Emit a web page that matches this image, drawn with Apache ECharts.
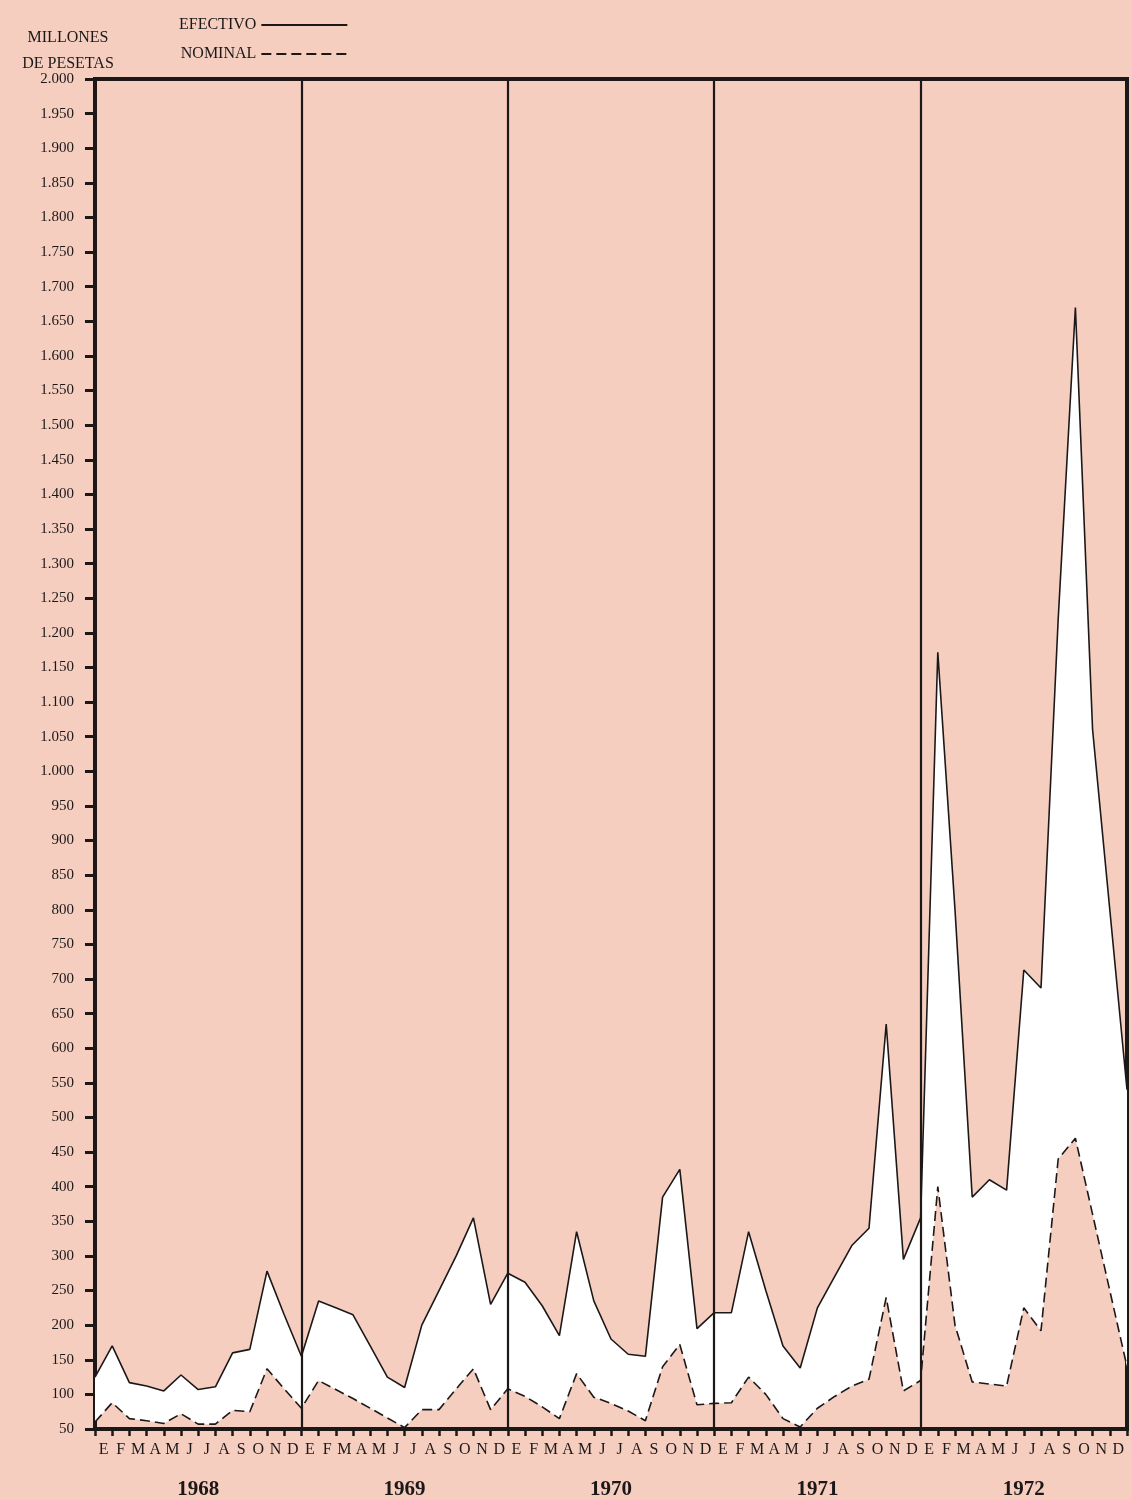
<!DOCTYPE html>
<html><head><meta charset="utf-8">
<script src="https://cdn.jsdelivr.net/npm/echarts@6/dist/echarts.min.js"></script>
<style>html,body{margin:0;padding:0;background:#f5cec0}#c{width:1132px;height:1500px}</style>
</head><body><div id="c"></div><script>
// ---- data ----
const years = ['1968','1969','1970','1971','1972'];
const monthLetters = ['E','F','M','A','M','J','J','A','S','O','N','D'];
// first value = diciembre 1967, then E..D for each year
const efectivo = [
  125,
  170,117,112,105,128,107,111,160,165,278,215,155,
  235,225,215,170,125,110,200,250,300,355,230,275,
  262,228,185,335,235,180,158,155,385,425,195,218,
  218,335,250,170,138,225,270,315,340,635,295,355,
  1172,800,385,410,395,713,687,1220,1670,1060,800,540
];
const nominal = [
  60,
  88,65,62,58,72,57,57,77,75,137,108,80,
  120,107,94,80,66,52,78,78,108,137,78,108,
  97,82,65,130,96,87,76,62,140,172,85,87,
  88,125,100,65,53,80,97,112,122,240,105,120,
  400,200,118,115,112,225,192,440,470,360,250,140
];
const yTicks = {min: 50, max: 2000, step: 50};

// ---- build ----
const monthCats = [];
years.forEach(y => monthLetters.forEach((m, i) => monthCats.push(y + '-' + i)));
const pointCats = ['1967-11'].concat(monthCats);
const gap = efectivo.map((v, i) => v - nominal[i]);
const ink = '#1c1818';
const serif = 'Liberation Serif';

const chart = echarts.init(document.getElementById('c'));
chart.setOption({
  backgroundColor: '#f5cec0',
  animation: false,
  textStyle: {fontFamily: serif, color: ink},
  title: {
    text: 'MILLONES\nDE PESETAS', left: 63, top: 20, textAlign: 'center',
    textStyle: {fontFamily: serif, fontSize: 16, fontWeight: 'normal', color: ink, lineHeight: 26}
  },
  legend: {
    data: ['EFECTIVO', 'NOMINAL'], orient: 'vertical', left: 174, top: 12,
    align: 'right', itemWidth: 86, itemHeight: 12, itemGap: 13,
    itemStyle: {opacity: 0},
    textStyle: {fontFamily: serif, fontSize: 16, color: ink}
  },
  grid: {left: 95, right: 5, top: 79, bottom: 71, show: true, borderColor: ink, borderWidth: 4},
  xAxis: [
    {type: 'category', data: pointCats, boundaryGap: false,
     axisLine: {show: false}, axisTick: {show: false}, axisLabel: {show: false}, splitLine: {show: false}},
    {type: 'category', data: monthCats, boundaryGap: true, position: 'bottom',
     axisLine: {show: true, lineStyle: {color: ink, width: 4}},
     axisTick: {show: true, length: 7, lineStyle: {color: ink, width: 2.5}},
     axisLabel: {interval: 0, margin: 13, fontSize: 16, fontFamily: serif, color: ink,
                 formatter: v => monthLetters[+v.split('-')[1]]}},
    {type: 'category', data: years, boundaryGap: true, position: 'bottom',
     axisLine: {show: false}, axisTick: {show: false},
     axisLabel: {interval: 0, margin: 50, fontSize: 21, fontWeight: 'bold', fontFamily: serif, color: ink}}
  ],
  yAxis: {
    type: 'value', min: yTicks.min, max: yTicks.max, interval: yTicks.step,
    axisLine: {show: true, lineStyle: {color: ink, width: 4}},
    axisTick: {show: true, length: 10, lineStyle: {color: ink, width: 3}},
    splitLine: {show: false},
    axisLabel: {margin: 21, fontSize: 15, fontFamily: serif, color: ink,
      formatter: v => v >= 1000 ? Math.floor(v / 1000) + '.' + String(v % 1000).padStart(3, '0') : String(v)}
  },
  series: [
    {name: 'base', type: 'line', stack: 'band', data: nominal, symbol: 'none',
     lineStyle: {opacity: 0}, silent: true, z: 1},
    {name: 'band', type: 'line', stack: 'band', data: gap, symbol: 'none',
     lineStyle: {opacity: 0}, areaStyle: {color: '#ffffff', opacity: 1}, silent: true, z: 1},
    {name: 'EFECTIVO', type: 'line', data: efectivo, symbol: 'none',
     lineStyle: {color: ink, width: 1.6}, itemStyle: {color: ink}, z: 3,
     markLine: {symbol: 'none', silent: true, label: {show: false},
       lineStyle: {color: ink, width: 2.2, type: 'solid'},
       data: ['1968-11', '1969-11', '1970-11', '1971-11'].map(c => ({xAxis: c}))}},
    {name: 'NOMINAL', type: 'line', data: nominal, symbol: 'none',
     lineStyle: {color: ink, width: 1.6, type: [10, 5]}, itemStyle: {color: ink}, z: 3}
  ]
});
</script></body></html>
